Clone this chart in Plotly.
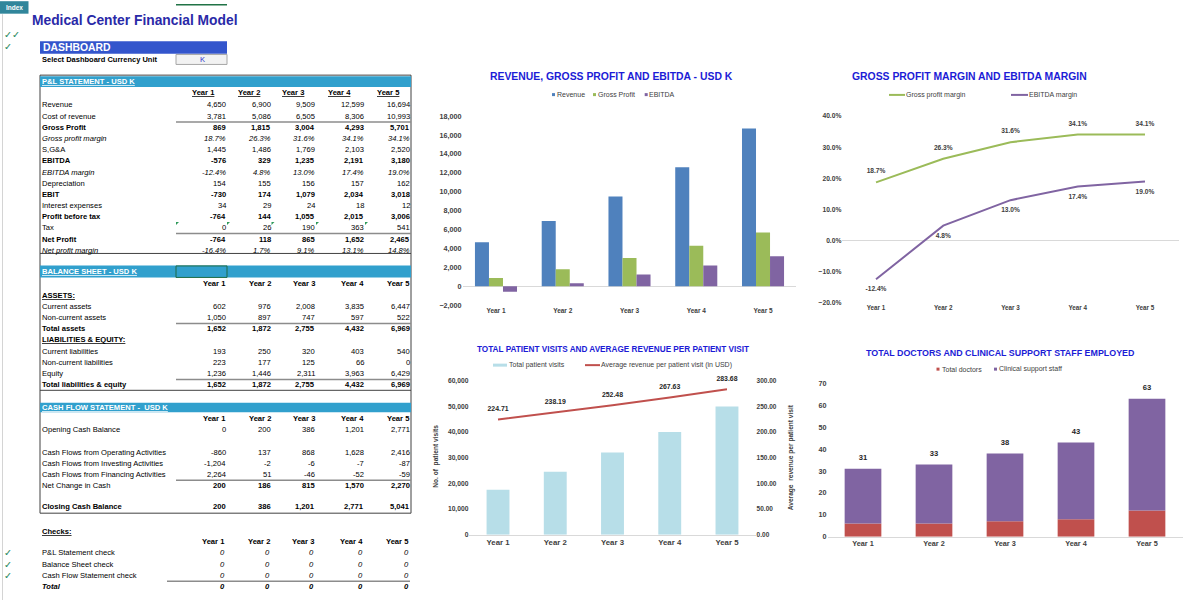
import plotly.graph_objects as go

W, H = 1200, 600
FONT = "Arial, 'Liberation Sans', sans-serif"

years = ["Year 1", "Year 2", "Year 3", "Year 4", "Year 5"]

# ---------------- P&L statement (USD K) ----------------
revenue = [4650, 6900, 9509, 12599, 16694]
cost_of_revenue = [3781, 5086, 6505, 8306, 10993]
gross_profit = [869, 1815, 3004, 4293, 5701]
gross_profit_margin = [18.7, 26.3, 31.6, 34.1, 34.1]
sga = [1445, 1486, 1769, 2103, 2520]
ebitda = [-576, 329, 1235, 2191, 3180]
ebitda_margin = [-12.4, 4.8, 13.0, 17.4, 19.0]
depreciation = [154, 155, 156, 157, 162]
ebit = [-730, 174, 1079, 2034, 3018]
interest_expenses = [34, 29, 24, 18, 12]
profit_before_tax = [-764, 144, 1055, 2015, 3006]
tax = [0, 26, 190, 363, 541]
net_profit = [-764, 118, 865, 1652, 2465]
net_profit_margin = [-16.4, 1.7, 9.1, 13.1, 14.8]

# ---------------- Balance sheet (USD K) ----------------
current_assets = [602, 976, 2008, 3835, 6447]
non_current_assets = [1050, 897, 747, 597, 522]
total_assets = [1652, 1872, 2755, 4432, 6969]
current_liabilities = [193, 250, 320, 403, 540]
non_current_liabilities = [223, 177, 125, 66, 0]
equity = [1236, 1446, 2311, 3963, 6429]
total_liabilities_equity = [1652, 1872, 2755, 4432, 6969]

# ---------------- Cash flow statement (USD K) ----------------
opening_cash = [0, 200, 386, 1201, 2771]
cf_operating = [-860, 137, 868, 1628, 2416]
cf_investing = [-1204, -2, -6, -7, -87]
cf_financing = [2264, 51, -46, -52, -59]
net_change_cash = [200, 186, 815, 1570, 2270]
closing_cash = [200, 386, 1201, 2771, 5041]

# ---------------- Checks ----------------
pl_check = [0, 0, 0, 0, 0]
bs_check = [0, 0, 0, 0, 0]
cf_check = [0, 0, 0, 0, 0]
checks_total = [0, 0, 0, 0, 0]

# ---------------- Operations ----------------
patient_visits = [17500, 24500, 32000, 40000, 50000]
avg_revenue_per_visit = [224.71, 238.19, 252.48, 267.63, 283.68]
total_doctors = [6, 6, 7, 8, 12]
clinical_support_staff = [25, 27, 31, 35, 51]

# ---------------- colours ----------------
C_REV = "#4f81bd"
C_GP = "#9bbb59"
C_EB = "#8064a2"
C_RED = "#c0504d"
C_LBLUE = "#b7dee8"
C_TITLE = "#1c1cd6"
C_AX = "#404040"
C_HEAD = "#31a0cd"
C_CHECK = "#2a8a5e"

# vertical calibration of the rendered page
Y_SCALE = 0.986
Y_OFF = 2.8


def px(x):
    return x / W


def py(y):
    return 1 - ((y - Y_OFF) / Y_SCALE) / H


annotations = []
shapes = []


def text(x, y, s, size=7.6, color="#000000", anchor="left", bold=False,
         italic=False, underline=False, angle=0, family=FONT):
    if underline:
        s = f"<u>{s}</u>"
    annotations.append(dict(
        x=px(x), y=py(y), xref="paper", yref="paper", text=s, showarrow=False,
        xanchor=anchor, yanchor="middle", borderpad=0, borderwidth=0,
        textangle=angle,
        font=dict(family=family, size=size, color=color,
                  weight="bold" if bold else "normal",
                  style="italic" if italic else "normal")))


def rect(x0, y0, x1, y1, fill=None, line=None, lw=1):
    shapes.append(dict(
        type="rect", xref="paper", yref="paper",
        x0=px(x0), x1=px(x1), y0=py(y1), y1=py(y0),
        fillcolor=fill if fill else "rgba(0,0,0,0)",
        line=dict(color=line if line else "rgba(0,0,0,0)", width=lw if line else 0)))


def hline(x0, x1, y, color="#000000", width=1):
    shapes.append(dict(type="line", xref="paper", yref="paper",
                       x0=px(x0), x1=px(x1), y0=py(y), y1=py(y),
                       line=dict(color=color, width=width)))


def vline(x, y0, y1, color="#000000", width=1):
    shapes.append(dict(type="line", xref="paper", yref="paper",
                       x0=px(x), x1=px(x), y0=py(y0), y1=py(y1),
                       line=dict(color=color, width=width)))


def fmt_num(v):
    return f"{v:,.0f}"


def fmt_pct(v):
    return f"{v:.1f}%"


# ---------------- page furniture ----------------
vline(2.5, 13, 600, "#d4d4d4", 1)
hline(176, 227, 3.6, "#217346", 1.5)
rect(0, 0, 28.5, 12.5, fill="#31869b")
text(14.2, 6.4, "Index", size=6.5, color="#ffffff", anchor="center", bold=True)
text(32, 19.5, "Medical Center Financial Model", size=13.8, color="#2a2aa8", bold=True)
text(3.5, 33.2, "✓✓", size=9.5, color=C_CHECK, family="DejaVu Sans")
text(3.5, 45.2, "✓", size=9.5, color=C_CHECK, family="DejaVu Sans")

rect(40, 40, 227, 52.7, fill="#3355cc")
text(42.5, 46.5, "DASHBOARD", size=10.4, color="#ffffff", bold=True)
text(42, 58.3, "Select Dashboard Currency Unit", size=7.5, bold=True)
rect(176, 53.3, 227, 63.3, fill="#f2f2f2", line="#a6a6a6", lw=1)
text(202, 58.5, "K", size=7.6, color="#3333cc", anchor="center")

# ---------------- tables ----------------
val_right = [225.5, 270.5, 314.5, 363.5, 410]
head_centers = [203, 248.5, 293, 339.5, 388.5]
LBL_X = 42

# frame
vline(40, 74, 512.5, "#404040", 1)
vline(411, 74, 512.5, "#404040", 1)
hline(40, 411, 74, "#404040", 1)
hline(40, 411, 252.5, "#404040", 1)
hline(40, 411, 389.5, "#404040", 1)
hline(40, 411, 512.5, "#404040", 1)

# P&L
rect(40, 75, 411, 86, fill=C_HEAD)
text(42, 80.5, "P&amp;L STATEMENT - USD K", color="#ffffff", bold=True, underline=True)
for i, yr in enumerate(years):
    text(head_centers[i], 91.7, yr, bold=True, underline=True, anchor="center")

pl_rows = [
    ("Revenue", revenue, "n", ""),
    ("Cost of revenue", cost_of_revenue, "n", ""),
    ("Gross Profit", gross_profit, "n", "b"),
    ("Gross profit margin", gross_profit_margin, "p", "i"),
    ("S,G&amp;A", sga, "n", ""),
    ("EBITDA", ebitda, "n", "b"),
    ("EBITDA margin", ebitda_margin, "p", "i"),
    ("Depreciation", depreciation, "n", ""),
    ("EBIT", ebit, "n", "b"),
    ("Interest expenses", interest_expenses, "n", ""),
    ("Profit before tax", profit_before_tax, "n", "b"),
    ("Tax", tax, "n", ""),
    ("Net Profit", net_profit, "n", "b"),
    ("Net profit margin", net_profit_margin, "p", "i"),
]
for r, (lbl, vals, kind, sty) in enumerate(pl_rows):
    y = 103.8 + r * 11.2
    b = "b" in sty
    it = "i" in sty
    text(LBL_X, y, lbl, bold=b, italic=it)
    for i, v in enumerate(vals):
        s = fmt_pct(v) if kind == "p" else fmt_num(v)
        text(val_right[i], y, s, anchor="right", bold=b, italic=it)
hline(176, 411, 120.8, "#8c8c8c", 1.5)
hline(176, 411, 232.6, "#8c8c8c", 1.5)
# small green comment markers on the tax row
for xc in [176, 227, 271.5, 316, 365]:
    shapes.append(dict(type="path", xref="paper", yref="paper",
                       path=f"M {px(xc)} {py(221)} L {px(xc + 3)} {py(221)} L {px(xc)} {py(224)} Z",
                       fillcolor="#2e9a5a", line=dict(width=0)))

# Balance sheet
rect(40, 264.5, 411, 276.5, fill=C_HEAD)
text(42, 270.5, "BALANCE SHEET - USD K", color="#ffffff", bold=True, underline=True)
rect(176, 265, 227, 276.5, line="#1e6b45", lw=1)
for i, yr in enumerate(years):
    text(val_right[i], 283, yr, bold=True, anchor="right")
bs_rows = [
    ("ASSETS:", None, "bu"),
    ("Current assets", current_assets, ""),
    ("Non-current assets", non_current_assets, ""),
    ("Total assets", total_assets, "b"),
    ("LIABILITIES &amp; EQUITY:", None, "bu"),
    ("Current liabilities", current_liabilities, ""),
    ("Non-current liabilities", non_current_liabilities, ""),
    ("Equity", equity, ""),
    ("Total liabilities &amp; equity", total_liabilities_equity, "b"),
]
for r, (lbl, vals, sty) in enumerate(bs_rows):
    y = 294.3 + r * 11.2
    b = "b" in sty
    text(LBL_X, y, lbl, bold=b, underline="u" in sty)
    if vals is not None:
        for i, v in enumerate(vals):
            text(val_right[i], y, fmt_num(v), anchor="right", bold=b)
hline(176, 411, 322.6, "#8c8c8c", 1.5)
hline(176, 411, 378.6, "#8c8c8c", 1.5)

# Cash flow
rect(40, 402, 411, 411.5, fill=C_HEAD)
text(42, 406.8, "CASH FLOW STATEMENT -  USD K", color="#ffffff", bold=True, underline=True)
for i, yr in enumerate(years):
    text(val_right[i], 418, yr, bold=True, anchor="right")
cf_rows = [
    ("Opening Cash Balance", opening_cash, 429.2, "", ""),
    ("Cash Flows from Operating Activities", cf_operating, 451.5, "", ""),
    ("Cash Flows from Investing Activities", cf_investing, 462.7, "", ""),
    ("Cash Flows from Financing Activities", cf_financing, 473.9, "", ""),
    ("Net Change in Cash", net_change_cash, 485.1, "", "b"),
    ("Closing Cash Balance", closing_cash, 505.8, "b", "b"),
]
for lbl, vals, y, ls, vs in cf_rows:
    text(LBL_X, y, lbl, bold="b" in ls)
    for i, v in enumerate(vals):
        text(val_right[i], y, fmt_num(v), anchor="right", bold="b" in vs)
hline(176, 411, 479.5, "#8c8c8c", 1.5)

# Checks
text(LBL_X, 530.7, "Checks:", bold=True, underline=True)
for i, yr in enumerate(years):
    text(val_right[i] - 0.8, 541.2, yr, bold=True, anchor="right")
check_rows = [
    ("P&amp;L Statement check", pl_check, 552.3, ""),
    ("Balance Sheet check", bs_check, 563.8, ""),
    ("Cash Flow Statement check", cf_check, 575.2, ""),
    ("Total", checks_total, 586.2, "b"),
]
for lbl, vals, y, sty in check_rows:
    b = "b" in sty
    text(LBL_X, y, lbl, bold=b, italic=b)
    for i, v in enumerate(vals):
        text(val_right[i] - 0.8, y, fmt_num(v), anchor="right", bold=b, italic=True)
    if not b:
        text(4, y, "✓", size=9.5, color=C_CHECK, family="DejaVu Sans")
hline(167, 410, 580.6, "#8c8c8c", 1.5)

# ---------------- chart titles & manual legends ----------------
text(611.7, 75.7, "REVENUE, GROSS PROFIT AND EBITDA - USD K", size=10.4, color=C_TITLE, bold=True, anchor="center")
text(969, 75, "GROSS PROFIT MARGIN AND EBITDA MARGIN", size=10.4, color=C_TITLE, bold=True, anchor="center")
text(613, 348.3, "TOTAL PATIENT VISITS AND AVERAGE REVENUE PER PATIENT VISIT", size=8.2, color=C_TITLE, bold=True, anchor="center")
text(1000, 351.7, "TOTAL DOCTORS AND CLINICAL SUPPORT STAFF EMPLOYED", size=8.9, color=C_TITLE, bold=True, anchor="center")

LEG = 7
# chart 1 legend
for (x0, col, lbl, tx) in [(552, C_REV, "Revenue", 557.3), (593, C_GP, "Gross Profit", 597.7), (644.7, C_EB, "EBITDA", 649)]:
    rect(x0, 92, x0 + 3, 95, fill=col)
    text(tx, 93.5, lbl, size=LEG, color=C_AX)
# chart 2 legend
hline(889, 905, 93.8, C_GP, 2)
text(906, 93.8, "Gross profit margin", size=LEG, color=C_AX)
hline(1011, 1028, 93.8, C_EB, 2)
text(1028.7, 93.8, "EBITDA margin", size=LEG, color=C_AX)
# chart 3 legend
rect(493, 362.8, 507, 365.8, fill=C_LBLUE)
text(509, 364.3, "Total patient visits", size=LEG, color=C_AX)
hline(585, 600, 364.3, C_RED, 2)
text(600.7, 364.3, "Average revenue per patient visit (in USD)", size=LEG, color=C_AX)
# chart 4 legend
rect(936.5, 366.8, 939.5, 369.8, fill=C_RED)
text(941.7, 368.3, "Total doctors", size=LEG, color=C_AX)
rect(994, 366.8, 997, 369.8, fill=C_EB)
text(999, 368.3, "Clinical support staff", size=LEG, color=C_AX)

# chart 3 axis titles
text(436, 456, "No. of  patient visits", size=6.6, color=C_AX, bold=True, anchor="center", angle=-90)
text(790.5, 456, "Average  revenue per patient visit", size=6.6, color=C_AX, bold=True, anchor="center", angle=-90)

# ---------------- traces ----------------
fig = go.Figure()
GHOST = "rgba(0,0,0,0)"

# Chart 1: revenue, gross profit, EBITDA
for name, vals, col in [("Revenue", revenue, C_REV), ("Gross Profit", gross_profit, C_GP), ("EBITDA", ebitda, C_EB)]:
    fig.add_trace(go.Bar(x=years, y=vals, name=name, marker=dict(color=col, line=dict(width=0)),
                         xaxis="x", yaxis="y"))

# Chart 2: margins
gp_m = [v / 100 for v in gross_profit_margin]
eb_m = [v / 100 for v in ebitda_margin]
fig.add_trace(go.Scatter(x=years, y=gp_m, mode="lines+markers+text", name="Gross profit margin",
                         text=[fmt_pct(v) for v in gross_profit_margin], textposition="top center",
                         textfont=dict(size=6.6, color=C_AX, family=FONT, weight="bold"),
                         marker=dict(size=10, color=GHOST),
                         line=dict(color=C_GP, width=2), cliponaxis=False, xaxis="x2", yaxis="y2"))
fig.add_trace(go.Scatter(x=years, y=eb_m, mode="lines+markers+text", name="EBITDA margin",
                         text=[fmt_pct(v) for v in ebitda_margin], textposition="bottom center",
                         textfont=dict(size=6.6, color=C_AX, family=FONT, weight="bold"),
                         marker=dict(size=10, color=GHOST),
                         line=dict(color=C_EB, width=2), cliponaxis=False, xaxis="x2", yaxis="y2"))

# Chart 3: patient visits + average revenue per visit
fig.add_trace(go.Bar(x=years, y=patient_visits, name="Total patient visits", width=0.40,
                     marker=dict(color=C_LBLUE, line=dict(width=0)), xaxis="x3", yaxis="y3"))
fig.add_trace(go.Scatter(x=years, y=avg_revenue_per_visit, mode="lines+markers+text",
                         name="Average revenue per patient visit (in USD)",
                         text=[f"{v:.2f}" for v in avg_revenue_per_visit], textposition="top center",
                         textfont=dict(size=6.9, color="#262626", family=FONT, weight="bold"),
                         marker=dict(size=9, color=GHOST),
                         line=dict(color=C_RED, width=2), cliponaxis=False, xaxis="x3", yaxis="y4"))

# Chart 4: staff (stacked via base)
staff_total = [d + s for d, s in zip(total_doctors, clinical_support_staff)]
fig.add_trace(go.Bar(x=years, y=total_doctors, name="Total doctors", width=0.517, offsetgroup="staff",
                     marker=dict(color=C_RED, line=dict(width=0)), xaxis="x4", yaxis="y5"))
fig.add_trace(go.Bar(x=years, y=clinical_support_staff, base=total_doctors, name="Clinical support staff",
                     width=0.517, offsetgroup="staff",
                     marker=dict(color=C_EB, line=dict(width=0)), xaxis="x4", yaxis="y5"))
fig.add_trace(go.Scatter(x=years, y=staff_total, mode="markers+text", text=[str(v) for v in staff_total],
                         textposition="top center", cliponaxis=False,
                         marker=dict(size=9, color=GHOST),
                         textfont=dict(size=7.6, color="#262626", family=FONT, weight="bold"),
                         xaxis="x4", yaxis="y5"))


def xax(x0, x1, anchor, size, showline=False):
    return dict(domain=[px(x0), px(x1)], anchor=anchor, type="category", range=[-0.5, 4.5],
                showgrid=False, zeroline=False, showline=showline, linecolor="#d9d9d9", linewidth=1,
                ticks="", fixedrange=True,
                tickfont=dict(size=size, color=C_AX, family=FONT, weight="bold"))


def yax(top, bottom, anchor, rng, dtick, fmt, size, zeroline=False, **kw):
    d = dict(domain=[py(bottom), py(top)], anchor=anchor, range=rng, dtick=dtick, tickformat=fmt,
             showgrid=False, zeroline=zeroline, zerolinecolor="#d9d9d9", zerolinewidth=1,
             showline=False, ticks="", fixedrange=True,
             tickfont=dict(size=size, color=C_AX, family=FONT, weight="bold"))
    d.update(kw)
    return d


fig.update_layout(
    width=W, height=H, margin=dict(l=0, r=0, t=0, b=0),
    paper_bgcolor="white", plot_bgcolor="white",
    showlegend=False, barmode="group", bargap=0.37, bargroupgap=0,
    font=dict(family=FONT, color=C_AX),
    xaxis=xax(462.6, 796.4, "y", 6.5),
    yaxis=yax(115, 304.3, "x", [-2000, 18000], 2000, ",", 7.2, zeroline=True),
    xaxis2=xax(842.4, 1178.6, "y2", 6.3),
    yaxis2=yax(115, 302, "x2", [-0.2, 0.4], 0.1, ".1%", 6.7, zeroline=True),
    xaxis3=xax(469.4, 755.6, "y3", 7.8, showline=True),
    yaxis3=yax(380, 534, "x3", [0, 60000], 10000, ",", 6.7),
    yaxis4=yax(380, 534, "x3", [0, 300], 50, ".2f", 6.5, overlaying="y3", side="right"),
    xaxis4=xax(827.5, 1182.5, "y5", 7.3, showline=True),
    yaxis5=yax(382.7, 536, "x4", [0, 70], 10, "d", 7.2),
    annotations=annotations,
    shapes=shapes,
)

fig.write_html(
    "out.html",
    config={"displayModeBar": False},
    post_script="document.body.style.margin='0';document.body.style.padding='0';"
                "document.body.style.overflow='hidden';",
)
